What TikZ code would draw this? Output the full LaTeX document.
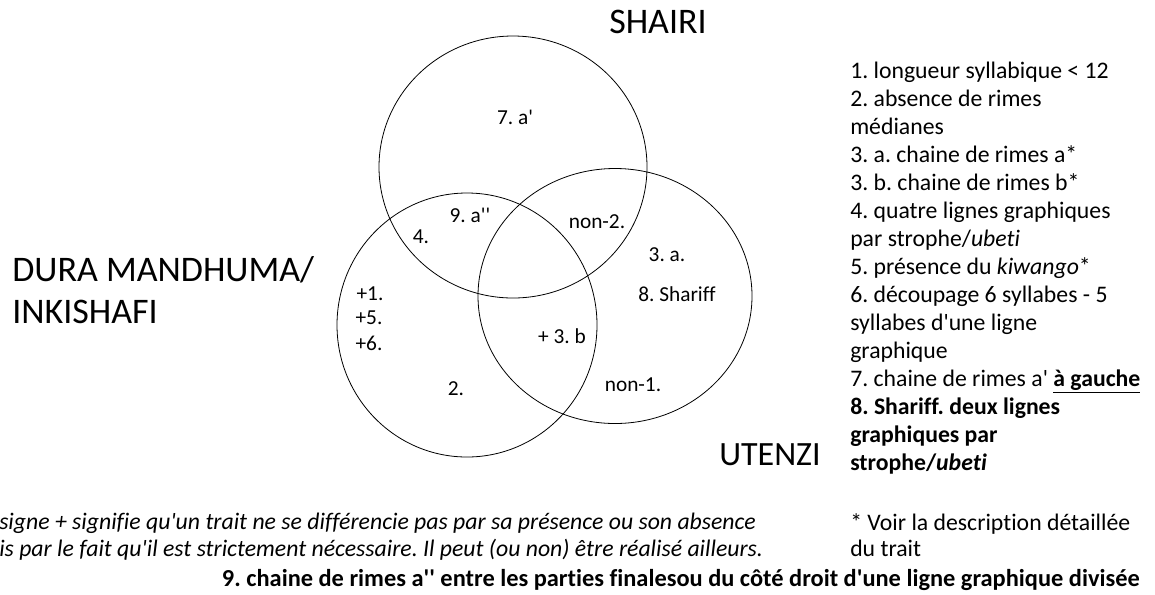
\documentclass[tikz,border=0pt]{standalone}
\usepackage{fontspec}
\setmainfont{Carlito}[Ligatures={TeXOff,CommonOff}]
\frenchspacing
\usetikzlibrary{shapes.geometric}
\begin{document}
\begin{tikzpicture}[x=0.75pt, y=-0.75pt,
        setring/.style={draw, ellipse, inner sep=0pt, line width=0.6pt},
        setname/.style={font=\fontsize{26.5}{32}\selectfont, inner sep=0pt},
        trait/.style={font=\fontsize{16}{20}\selectfont, inner sep=0pt},
        note/.style={font=\fontsize{17.8}{21}\selectfont, inner sep=0pt, align=left}]
    \useasboundingbox (0,0) rectangle (1155,594);

    % the three sets
    \node[setring, minimum width=201pt, minimum height=196.5pt] (shairi) at (513,167) {};
    \node[setring, minimum width=195pt, minimum height=198pt] (dura) at (467,325) {};
    \node[setring, minimum width=205.5pt, minimum height=191.25pt] (utenzi) at (615,296) {};

    \node[setname, font=\fontsize{27}{32}\selectfont] (tshairi) at (658,22) {SHAIRI};
    \node[setname, align=left, anchor=west,
          font=\fontsize{27}{32}\selectfont] (tdura) at (12,290) {DURA MANDHUMA/\\INKISHAFI};
    \node[setname, font=\fontsize{25.5}{32}\selectfont] (tutenzi) at (770,455) {UTENZI};

    % traits in the regions
    \node[trait] (t7) at (515,117) {7. a'};
    \node[trait] (t9) at (470,215) {9. a''};
    \node[trait] (t4) at (421,237) {4.};
    \node[trait] (tn2) at (597,222) {non-2.};
    \node[trait] (t3a) at (667,255) {3. a.};
    \node[trait] (t8) at (677,294) {8. Shariff};
    \node[trait] (t1) at (370,294) {+1.};
    \node[trait] (t5) at (369,318) {+5.};
    \node[trait] (t6) at (369,343) {+6.};
    \node[trait] (t3b) at (562,336) {+ 3. b};
    \node[trait] (t2) at (456,389) {2.};
    \node[trait] (tn1) at (633,385) {non-1.};

    % legend
    \node[note, anchor=north west] (legend) at (850,62) {%
        1. longueur syllabique < 12\\
        2. absence de rimes\\
        médianes\\
        3. a. chaine de rimes a*\\
        3. b. chaine de rimes b*\\
        4. quatre lignes graphiques\\
        par strophe/\textit{ubeti}\\
        5. présence du \textit{kiwango}*\\
        6. découpage 6 syllabes - 5\\
        syllabes d'une ligne\\
        graphique\\
        7. chaine de rimes a' \underline{\textbf{à gauche}}\\
        \textbf{8. Shariff. deux lignes}\\
        \textbf{graphiques par}\\
        \textbf{strophe/\textit{ubeti}}};
    \node[note, anchor=north west, font=\fontsize{17.8}{19.5}\selectfont] (voir) at (850,513) {%
        * Voir la description détaillée\\du trait};
    \node[note, anchor=north west, font=\itshape\fontsize{17.8}{20.25}\selectfont] (signe) at (-1,513) {%
        signe + signifie qu'un trait ne se différencie pas par sa présence ou son absence\\
        is par le fait qu'il est strictement nécessaire. Il peut (ou non) être réalisé ailleurs.};
    \node[note, anchor=east, font=\bfseries\fontsize{18.3}{20}\selectfont] (t9note) at (1140,580) {%
        9. chaine de rimes a'' entre les parties finalesou du côté droit d'une ligne graphique divisée};
\end{tikzpicture}
\end{document}
